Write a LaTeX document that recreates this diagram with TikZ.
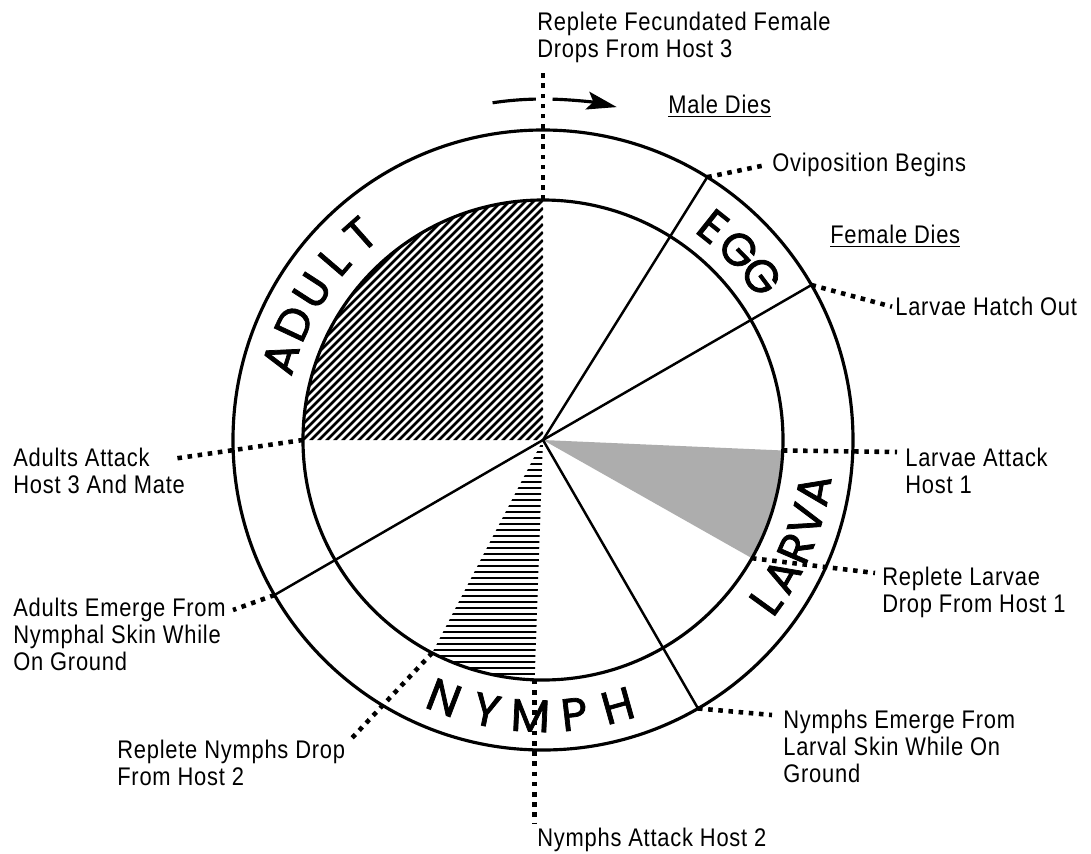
\documentclass[tikz,border=0pt]{standalone}
\usepackage{fontspec}
\usepackage{tikz}
\usetikzlibrary{arrows.meta,calc}
\newfontfamily\labfont[FakeStretch=0.86,LetterSpace=3]{Liberation Sans}
\newfontfamily\stagefont[FakeBold=1.6]{Poppins}

\begin{document}
\begin{tikzpicture}[x=0.02cm, y=0.02cm,
  ring/.style={line width=1.8pt},
  divider/.style={line width=1.4pt},
  leader/.style={line width=2.6pt, dash pattern=on 2.6pt off 3.2pt},
  lab/.style={font=\labfont\fontsize{14.5}{15.3}\selectfont, inner sep=0pt, align=left, anchor=north west},
  stage/.style={font=\stagefont\fontsize{26}{26}\selectfont, inner sep=0pt}]
  \fill[white] (-543,-413) rectangle (548,440);
  \useasboundingbox (-543,-413) rectangle (548,440);

  % feeding periods
  \begin{scope}
    \clip (0,0) -- (90:240) arc[start angle=90, end angle=180, radius=240] -- cycle;
    \foreach \c in {0,8,...,480} {
      \draw[line width=0.055cm] (-240,\c-240) -- (0,\c);
    }
  \end{scope}
  \begin{scope}
    \clip (0,0) -- (242.5:240) arc[start angle=242.5, end angle=268, radius=240] -- cycle;
    \foreach \y in {-240,-234,...,0} {
      \draw[line width=0.035cm] (-125,\y) -- (5,\y);
    }
  \end{scope}
  \fill[black!32] (0,0) -- (-29.5:240) arc[start angle=-29.5, end angle=-2.5, radius=240] -- cycle;

  % rings and stage boundaries
  \draw[ring] (0,0) circle[radius=310];
  \draw[ring] (0,0) circle[radius=240];
  \draw[divider] (0,0) -- (58:310);
  \draw[divider] (210:310) -- (30:310);
  \draw[divider] (0,0) -- (300:310);

  \coordinate (pFem) at (90:240);
  \coordinate (pOvi) at (58:310);
  \coordinate (pHatch) at (30:310);
  \coordinate (pAdatt) at (180:240);
  \coordinate (pAdemg) at (210:310);
  \coordinate (pNydrop) at (242.5:240);
  \coordinate (pNyatt) at (268:240);
  \coordinate (pNyemg) at (300:310);
  \coordinate (pLaatt) at (-2.5:240);
  \coordinate (pLadrop) at (-29.5:240);

  % stage names
  \foreach \l/\a [count=\i] in {A/162.6, D/154.9, U/147.1, L/139.4, T/131.6} {
    \node[stage, rotate=\a-90] (adult\i) at (\a:275) {\l};
  }
  \foreach \l/\a [count=\i] in {E/51.5, G/44.2, G/36.9} {
    \node[stage, rotate=\a-90] (egg\i) at (\a:273) {\l};
  }
  \foreach \l/\a [count=\i] in {L/-35.9, A/-29.55, R/-23.2, V/-16.85, A/-10.5} {
    \node[stage, rotate=\a+90] (larva\i) at (\a:275) {\l};
  }
  \foreach \l/\a [count=\i] in {N/249, Y/258.2, M/267.4, P/276.5, H/285.7} {
    \node[stage, rotate=\a+90] (nymph\i) at (\a:276) {\l};
  }

  % direction of the cycle
  \draw[line width=1.8pt] (98.5:341) arc[start angle=98.5, end angle=91.2, radius=341];
  \draw[line width=1.8pt, -{Stealth[length=0.6cm, width=0.36cm, inset=0.12cm]}] (88.4:341) arc[start angle=88.4, end angle=77.5, radius=341];

  % events
  \begin{scope}[shift={(-543,440)}, yscale=-1]
    \node[lab] (fem) at (537,12) {Replete Fecundated Female\\Drops From Host 3};
    \node[lab] (male) at (668,95) {\underline{Male Dies}};
    \node[lab] (ovi) at (772,153) {Oviposition Begins};
    \node[lab] (female) at (830,225) {\underline{Female Dies}};
    \node[lab] (hatch) at (895,297) {Larvae Hatch Out};
    \node[lab] (adatt) at (13,448) {Adults Attack\\Host 3 And Mate};
    \node[lab] (ademg) at (13,598) {Adults Emerge From\\Nymphal Skin While\\On Ground};
    \node[lab] (nydrop) at (117,740) {Replete Nymphs Drop\\From Host 2};
    \node[lab] (nyatt) at (537,828) {Nymphs Attack Host 2};
    \node[lab] (nyemg) at (783,710) {Nymphs Emerge From\\Larval Skin While On\\Ground};
    \node[lab] (laatt) at (905,448) {Larvae Attack\\Host 1};
    \node[lab] (ladrop) at (882,567) {Replete Larvae\\Drop From Host 1};
    \coordinate (eFem) at (543,68);
    \coordinate (eAdatt) at (172,459);
    \coordinate (eAdemg) at (233,610);
    \coordinate (eNydrop) at (352,738);
    \coordinate (eNyemg) at (772,715);
    \coordinate (eLaatt) at (897,452);
    \coordinate (eLadrop) at (875,573);
  \end{scope}

  \draw[leader] (pFem) -- (eFem);
  \draw[leader] (pOvi) -- ([xshift=-0.14cm]ovi.west);
  \draw[leader] (pHatch) -- ([xshift=-0.06cm]hatch.west);
  \draw[leader] (pAdatt) -- (eAdatt);
  \draw[leader] (pAdemg) -- (eAdemg);
  \draw[leader] (pNydrop) -- (eNydrop);
  \draw[leader, shorten >=0.08cm] (pNyatt) -- (pNyatt |- nyatt.north);
  \draw[leader] (pNyemg) -- (eNyemg);
  \draw[leader] (pLaatt) -- (eLaatt);
  \draw[leader] (pLadrop) -- (eLadrop);
\end{tikzpicture}
\end{document}
